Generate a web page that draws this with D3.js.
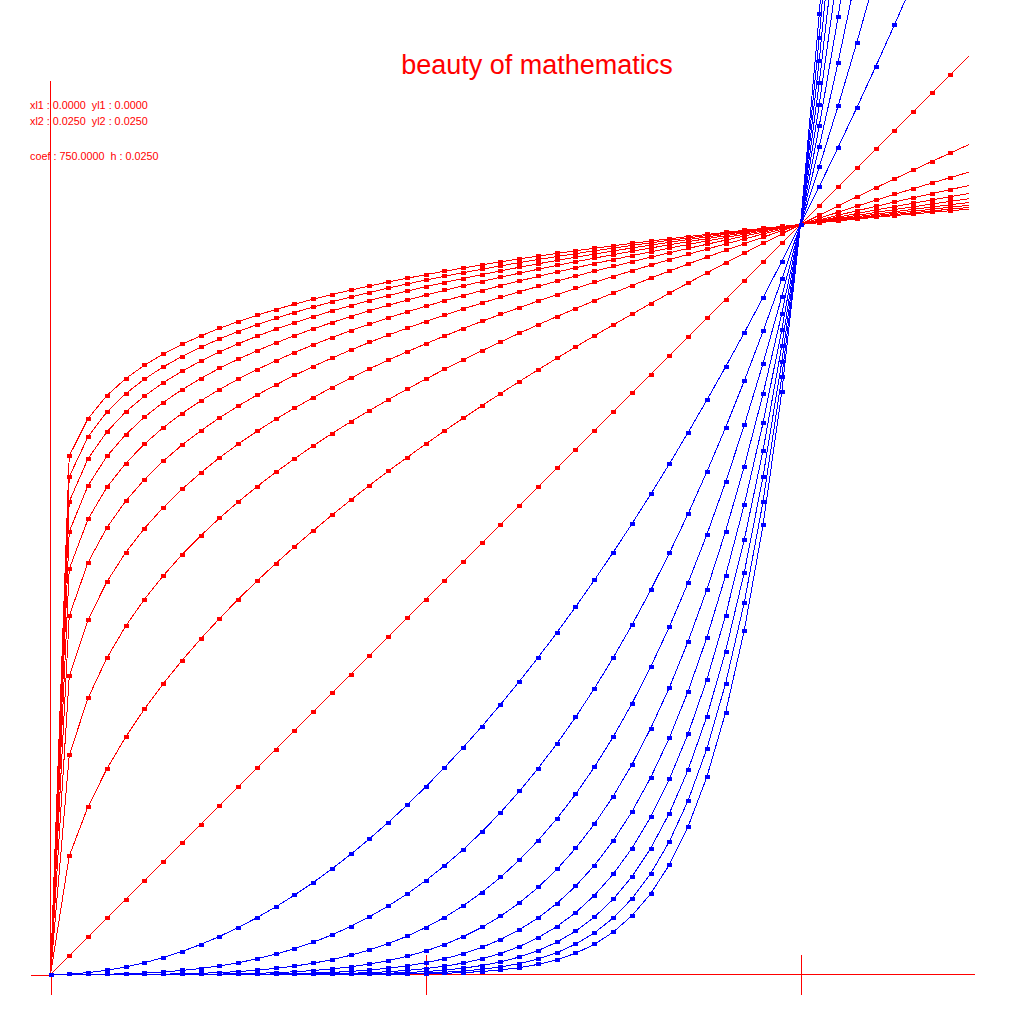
<!DOCTYPE html>
<html>
<head>
<meta charset="utf-8">
<script src="https://cdn.jsdelivr.net/npm/d3@7"></script>
<style>
  html, body { margin: 0; padding: 0; background: #fff; }
  svg { display: block; }
  text { font-family: "Liberation Sans", Arial, sans-serif; white-space: pre; }
</style>
</head>
<body>
<svg id="chart" width="1024" height="1024"></svg>
<script>
// ---- data ----
const title = "beauty of mathematics";
const infoLines = ["xl1 : 0.0000  yl1 : 0.0000", "xl2 : 0.0250  yl2 : 0.0250", "coef : 750.0000  h : 0.0250"];
// sample positions (h = 0.025), markers drawn on 0 .. 1.2, polyline continues to 1.225
const xSamples = [0, 0.025, 0.05, 0.075, 0.1, 0.125, 0.15, 0.175, 0.2, 0.225, 0.25, 0.275, 0.3, 0.325, 0.35, 0.375,
  0.4, 0.425, 0.45, 0.475, 0.5, 0.525, 0.55, 0.575, 0.6, 0.625, 0.65, 0.675, 0.7, 0.725, 0.75, 0.775, 0.8, 0.825,
  0.85, 0.875, 0.9, 0.925, 0.95, 0.975, 1, 1.025, 1.05, 1.075, 1.1, 1.125, 1.15, 1.175, 1.2];
const xLineEnd = 1.225;
// red family: y = x^(1/n), n = 1..10 ; blue family: y = x^n, n = 2..10
const redExponents = [1, 1/2, 1/3, 1/4, 1/5, 1/6, 1/7, 1/8, 1/9, 1/10];
const blueExponents = [2, 3, 4, 5, 6, 7, 8, 9, 10];
const axisTicks = [0, 0.5, 1];
const xAxisMax = 1.232;
const yAxisMax = 1.192;

// ---- scales ----
const svg = d3.select("#chart");
const x = d3.scaleLinear().domain([0, 1]).range([50.5, 800.5]);
const y = d3.scaleLinear().domain([0, 1]).range([974.5, 224.5]);
const RED = "#ff0000", BLUE = "#0000ff";

// ---- axes ----
const axG = svg.append("g");
const gB = axG.append("g").attr("transform", `translate(0,${y(0)})`)
  .call(d3.axisBottom(x).tickValues(axisTicks).tickSize(20).tickSizeOuter(0).tickFormat(""));
const gT = axG.append("g").attr("transform", `translate(0,${y(0)})`)
  .call(d3.axisTop(x).tickValues(axisTicks.filter(d => d > 0)).tickSize(20).tickSizeOuter(0).tickFormat(""));
[gB, gT].forEach(g => { g.select(".domain").remove(); g.selectAll("line").attr("stroke", RED); });
const gL = axG.append("g").attr("transform", `translate(${x(0)},0)`)
  .call(d3.axisLeft(y).tickValues([0]).tickSize(20).tickSizeOuter(0).tickFormat(""));
gL.select(".domain").remove(); gL.selectAll("line").attr("stroke", RED);
axG.append("line").attr("x1", x(0)).attr("x2", x(xAxisMax)).attr("y1", y(0)).attr("y2", y(0)).attr("stroke", RED);
axG.append("line").attr("x1", x(0)).attr("x2", x(0)).attr("y1", y(0)).attr("y2", y(yAxisMax)).attr("stroke", RED);
axG.selectAll("line").attr("shape-rendering", "crispEdges");

// ---- curves ----
const line = d3.line().x(d => x(d[0])).y(d => y(d[1]));
function drawFamily(exps, color) {
  const g = svg.append("g");
  exps.forEach(p => {
    const pts = xSamples.map(v => [v, Math.pow(v, p)]);
    const linePts = pts.concat([[xLineEnd, Math.pow(xLineEnd, p)]]);
    g.append("path").datum(linePts).attr("d", line)
      .attr("fill", "none").attr("stroke", color).attr("stroke-width", 1)
      .attr("shape-rendering", "crispEdges");
    g.selectAll(null).data(pts.filter(d => y(d[1]) > -10)).enter().append("rect")
      .attr("x", d => Math.round(x(d[0])) - 2.5).attr("y", d => Math.round(y(d[1])) - 2)
      .attr("width", 5).attr("height", 4).attr("fill", color).attr("shape-rendering", "crispEdges");
  });
}
drawFamily(redExponents, RED);
drawFamily(blueExponents, BLUE);

// ---- texts ----
svg.append("text").attr("x", 537).attr("y", 74).attr("text-anchor", "middle")
  .attr("font-size", 27).attr("fill", RED).text(title);
const infoY = [109, 124.5, 160];
infoLines.forEach((t, i) => {
  svg.append("text").attr("x", 30).attr("y", infoY[i]).attr("font-size", 10.8).attr("fill", RED).text(t);
});
</script>
</body>
</html>
